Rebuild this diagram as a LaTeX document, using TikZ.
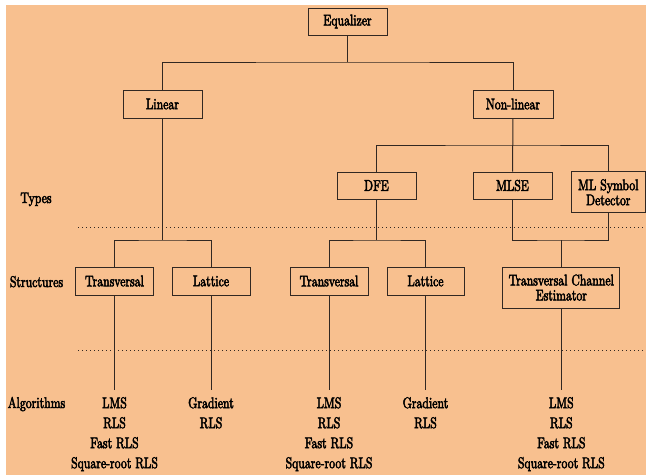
\documentclass[tikz,border=0pt]{standalone}
\usepackage{fontspec}
\setmainfont{lmroman10-regular.otf}[FakeStretch=0.76,FakeBold=3]
\definecolor{peach}{RGB}{248,192,143}
\definecolor{ink}{RGB}{50,40,34}
\tikzset{
  box/.style={draw=ink, line width=1pt, inner sep=0pt, minimum height=27pt, align=center, font=\fontsize{15.5}{16}\selectfont},
  conn/.style={draw=ink, line width=1pt},
  sep/.style={draw=ink, line width=1pt, dash pattern=on 1pt off 3pt},
  lbl/.style={inner sep=0pt, anchor=base, font=\fontsize{15.5}{16}\selectfont},
  alg/.style={inner sep=0pt, anchor=north, align=center, font=\fontsize{15.5}{20}\selectfont}
}
\begin{document}
\begin{tikzpicture}[x=1pt,y=-1pt]
\useasboundingbox (0,0) rectangle (646,475);
\fill[peach] (6,5) rectangle (646,475);
% boxes
\node[box, minimum width=79pt] (eq) at (347.5,21.5) {Equalizer};
\node[box, minimum width=79pt, minimum height=28pt] (lin) at (162.5,104) {Linear};
\node[box, minimum width=80pt, minimum height=28pt] (nonlin) at (513,104) {Non-linear};
\node[box, minimum width=79pt] (dfe) at (376.5,185.5) {DFE};
\node[box, minimum width=79pt] (mlse) at (512.5,185.5) {MLSE};
\node[box, minimum width=74.5pt, minimum height=40.7pt, font=\fontsize{15.5}{15}\selectfont] (mlsd) at (608.3,192.3) {ML Symbol\\Detector};
\node[box, minimum width=78pt, minimum height=28pt] (tr1) at (114.5,281) {Transversal};
\node[box, minimum width=78pt, minimum height=28pt] (lat1) at (211,281) {Lattice};
\node[box, minimum width=78pt, minimum height=28pt] (tr2) at (329,281) {Transversal};
\node[box, minimum width=77pt, minimum height=28pt] (lat2) at (425.5,281) {Lattice};
\node[box, minimum width=117pt, minimum height=41pt, font=\fontsize{15.5}{15}\selectfont] (tce) at (561.3,287.5) {Transversal Channel\\Estimator};
% side labels
\node[lbl] (types) at (36,203) {Types};
\node[lbl] (structs) at (36.5,287) {Structures};
\node[lbl] (algs) at (36.5,408) {Algorithms};
% separators
\coordinate (s1a) at (78,227);
\coordinate (s1b) at (646,227);
\coordinate (s2a) at (78,350);
\coordinate (s2b) at (646,350);
\draw[sep] (s1a) -- (s1b);
\draw[sep] (s2a) -- (s2b);
% algorithm texts
\node[alg] (a1) at (114.5,397) {LMS\\RLS\\Fast RLS\\Square-root RLS};
\node[alg] (a2) at (211,397) {Gradient\\RLS};
\node[alg] (a3) at (329,397) {LMS\\RLS\\Fast RLS\\Square-root RLS};
\node[alg] (a4) at (425.5,397) {Gradient\\RLS};
\node[alg] (a5) at (561.3,397) {LMS\\RLS\\Fast RLS\\Square-root RLS};
% junctions
\coordinate (j1) at (347.5,62);
\coordinate (j2) at (513,145);
\coordinate (j3) at (162.5,240);
\coordinate (j4) at (376.5,240);
\coordinate (j5) at (561.3,240);
% connectors
\draw[conn] (eq.south) -- (j1);
\draw[conn] (lin.north) |- (j1) -| (nonlin.north);
\draw[conn] (nonlin.south) -- (mlse.north);
\draw[conn] (dfe.north) |- (j2) -| (mlsd.north);
\draw[conn] (lin.south) -- (j3);
\draw[conn] (tr1.north) |- (j3) -| (lat1.north);
\draw[conn] (dfe.south) -- (j4);
\draw[conn] (tr2.north) |- (j4) -| (lat2.north);
\draw[conn] (mlse.south) |- (j5) -| (mlsd.south);
\draw[conn] (j5) -- (tce.north);
\draw[conn] (tr1.south) -- ([yshift=7pt]a1.north);
\draw[conn] (lat1.south) -- ([yshift=7pt]a2.north);
\draw[conn] (tr2.south) -- ([yshift=7pt]a3.north);
\draw[conn] (lat2.south) -- ([yshift=7pt]a4.north);
\draw[conn] (tce.south) -- ([yshift=7pt]a5.north);
\end{tikzpicture}
\end{document}
